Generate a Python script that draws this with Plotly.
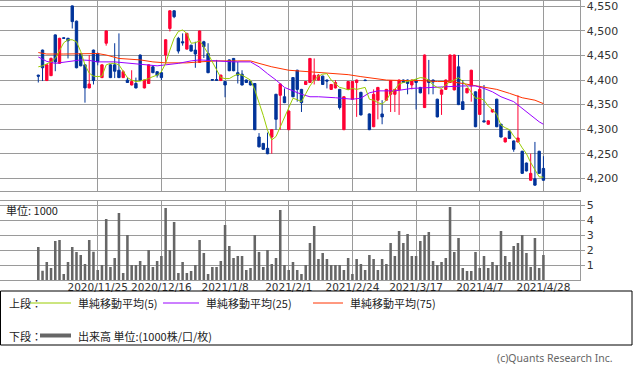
import plotly.graph_objects as go
import pandas as pd

# ---------------- data ----------------
holidays = ["2020-11-23", "2020-12-31", "2021-01-01", "2021-01-11", "2021-02-11", "2021-02-23"]
days = pd.bdate_range("2020-11-04", "2021-04-28", freq="C", holidays=holidays)
dates = [f"{d.year}/{d.month}/{d.day}" for d in days]

tick_labels = ["2020/11/25", "2020/12/16", "2021/1/8", "2021/2/1",
               "2021/2/24", "2021/3/17", "2021/4/7", "2021/4/28"]
price_ticks = [4200, 4250, 4300, 4350, 4400, 4450, 4500, 4550]
volume_ticks = [1, 2, 3, 4, 5]

open_ = [4410, 4461, 4399, 4409, 4492, 4434, 4486, 4485, 4551, 4520,
         4454, 4431, 4384, 4461, 4454, 4405, 4475, 4431, 4431, 4420,
         4405, 4400, 4390, 4393, 4451, 4384, 4393, 4427, 4417, 4415,
         4451, 4505, 4541, 4485, 4478, 4463, 4471, 4461, 4436, 4478,
         4454, 4401, 4401, 4399, 4397, 4441, 4444, 4415, 4412, 4400,
         4397, 4393, 4284, 4271, 4261, 4284, 4371, 4369, 4366, 4299,
         4405, 4420, 4381, 4391, 4395, 4400, 4400, 4408, 4400, 4381,
         4384, 4381, 4299, 4381, 4361, 4395, 4375, 4400, 4331, 4305,
         4359, 4331, 4359, 4371, 4371, 4380, 4400, 4400, 4390, 4400,
         4385, 4344, 4400, 4400, 4361, 4371, 4381, 4395, 4380, 4427,
         4356, 4374, 4388, 4376, 4330, 4317, 4310, 4335, 4361, 4310,
         4274, 4296, 4276, 4274, 4255, 4231, 4196, 4199, 4255, 4220]
high = [4411, 4462, 4432, 4446, 4493, 4486, 4487, 4486, 4552, 4521,
        4455, 4432, 4451, 4462, 4456, 4432, 4501, 4432, 4475, 4495,
        4420, 4405, 4420, 4405, 4452, 4401, 4432, 4430, 4418, 4416,
        4483, 4542, 4542, 4488, 4495, 4496, 4472, 4478, 4501, 4480,
        4475, 4402, 4441, 4411, 4398, 4442, 4445, 4437, 4420, 4401,
        4398, 4394, 4292, 4272, 4293, 4300, 4372, 4393, 4383, 4338,
        4406, 4421, 4382, 4398, 4445, 4444, 4412, 4409, 4401, 4392,
        4400, 4382, 4367, 4398, 4398, 4401, 4376, 4401, 4332, 4381,
        4386, 4359, 4382, 4400, 4382, 4401, 4401, 4401, 4401, 4401,
        4386, 4452, 4441, 4401, 4362, 4381, 4401, 4452, 4452, 4451,
        4400, 4384, 4421, 4377, 4388, 4390, 4318, 4341, 4362, 4311,
        4283, 4297, 4277, 4369, 4256, 4232, 4250, 4274, 4256, 4245]
low = [4395, 4398, 4398, 4408, 4418, 4433, 4484, 4444, 4505, 4424,
       4428, 4354, 4383, 4391, 4430, 4404, 4470, 4404, 4404, 4404,
       4404, 4394, 4389, 4383, 4398, 4383, 4392, 4414, 4405, 4400,
       4432, 4499, 4526, 4454, 4470, 4462, 4458, 4425, 4435, 4445,
       4414, 4399, 4399, 4398, 4365, 4418, 4418, 4393, 4389, 4394,
       4389, 4298, 4263, 4258, 4249, 4250, 4299, 4299, 4353, 4298,
       4365, 4356, 4335, 4390, 4394, 4391, 4399, 4390, 4383, 4380,
       4383, 4340, 4298, 4380, 4360, 4325, 4328, 4398, 4298, 4304,
       4320, 4310, 4358, 4335, 4335, 4329, 4394, 4371, 4381, 4340,
       4373, 4343, 4371, 4371, 4324, 4329, 4380, 4394, 4379, 4349,
       4339, 4373, 4356, 4304, 4329, 4314, 4309, 4334, 4304, 4283,
       4273, 4280, 4254, 4273, 4209, 4214, 4195, 4185, 4209, 4195]
close = [4408, 4425, 4431, 4444, 4437, 4485, 4485, 4480, 4519, 4425,
         4429, 4384, 4392, 4399, 4437, 4431, 4500, 4405, 4418, 4405,
         4417, 4395, 4397, 4384, 4399, 4400, 4431, 4415, 4410, 4405,
         4482, 4541, 4529, 4459, 4476, 4495, 4459, 4453, 4500, 4468,
         4415, 4400, 4399.5, 4410, 4390, 4419, 4419, 4410, 4390, 4395,
         4390, 4299, 4264, 4259, 4250, 4299, 4320, 4392, 4354, 4337,
         4366, 4381, 4354, 4397, 4444, 4410, 4410, 4391, 4398, 4391,
         4395, 4344, 4366, 4397, 4397, 4400, 4329, 4399, 4299, 4371,
         4385, 4325, 4381, 4399, 4381, 4400, 4395, 4393, 4400, 4395,
         4374, 4451, 4395, 4396, 4325, 4380, 4400, 4451, 4451, 4350,
         4340, 4383, 4420, 4305, 4381, 4315, 4317, 4340, 4305, 4284,
         4282, 4281, 4259, 4282, 4210, 4215, 4210, 4186, 4210, 4196]

volume = [2.22, 0.64, 1.22, 0.82, 2.62, 2.69, 0.42, 1.22, 2.22, 1.89,
          1.69, 1.09, 2.69, 1.91, 0.69, 1.02, 4.09, 0.89, 1.49, 4.49,
          0.49, 3.02, 1.02, 1.02, 1.29, 1.02, 2.02, 0.89, 1.29, 1.62,
          4.82, 2.02, 3.89, 0.49, 1.22, 0.49, 0.62, 1.02, 2.69, 1.82,
          0.42, 0.89, 0.89, 1.29, 3.69, 2.29, 1.49, 1.62, 1.62, 0.69,
          0.82, 3.02, 1.89, 0.89, 2.02, 1.09, 1.49, 4.69, 1.02, 0.69,
          1.22, 0.69, 0.42, 1.02, 2.49, 3.62, 1.42, 1.82, 1.42, 1.02,
          1.02, 1.02, 0.69, 1.49, 0.42, 1.42, 1.09, 0.69, 1.69, 1.42,
          0.69, 1.42, 1.09, 2.49, 1.62, 3.29, 2.49, 3.09, 1.62, 1.62,
          2.62, 3.02, 3.22, 1.29, 1.02, 1.22, 1.49, 4.89, 1.89, 2.82,
          0.82, 0.62, 0.62, 1.89, 0.82, 1.62, 0.82, 1.22, 1.02, 3.29,
          1.62, 1.22, 2.29, 2.49, 3.02, 1.82, 0.89, 2.82, 0.82, 1.69]

ma5 = [4427, 4429, 4433, 4437, 4444, 4461, 4476, 4482, 4482, 4478,
       4458, 4431, 4414, 4408, 4407, 4408, 4431, 4434, 4434, 4431,
       4417, 4405, 4400, 4397, 4398, 4400, 4403, 4407, 4410, 4417,
       4434, 4461, 4485, 4499, 4502, 4495, 4475, 4476, 4480, 4468,
       4454, 4437, 4420, 4405, 4403, 4403, 4408, 4412, 4410, 4405,
       4400, 4380, 4355, 4328, 4298, 4278, 4285, 4305, 4325, 4346,
       4363, 4360, 4356, 4372, 4388, 4400, 4408, 4412, 4413, 4400,
       4392, 4385, 4383, 4380, 4383, 4381, 4383, 4385, 4361, 4359,
       4354, 4351, 4359, 4373, 4381, 4392, 4395, 4397, 4400, 4402,
       4405, 4404, 4400, 4390, 4385, 4383, 4390, 4397, 4400, 4405,
       4397, 4388, 4375, 4363, 4363, 4359, 4347, 4340, 4330, 4308,
       4303, 4299, 4286, 4276, 4262, 4250, 4232, 4218, 4203, 4202]

ma25_idx = [0, 2, 4, 6, 8, 10, 12, 14, 18, 22, 25, 28, 30, 33, 36, 38, 42, 46,
            50, 52, 54, 56, 58, 60, 62, 64, 66, 70, 74, 76, 78, 80, 84, 88, 92,
            96, 100, 103, 105, 107, 109, 112, 114, 116, 118, 119]
ma25 = [4447, 4438, 4434, 4436, 4439, 4441, 4440, 4437, 4437, 4434, 4431, 4429,
        4431, 4434, 4439, 4441, 4439, 4437, 4437, 4427, 4413, 4400, 4385, 4378,
        4371, 4366, 4366, 4364, 4361, 4363, 4374, 4378, 4378, 4383, 4385, 4386,
        4388, 4388, 4383, 4376, 4366, 4356, 4342, 4329, 4315, 4310]

ma75_idx = [0, 2, 6, 10, 14, 16, 19, 24, 27, 30, 35, 38, 42, 47, 50, 52, 55, 59,
            62, 66, 70, 73, 76, 79, 82, 86, 90, 94, 97, 100, 103, 106, 108, 111,
            114, 117, 119]
ma75 = [4456, 4453, 4453, 4453, 4454, 4451, 4444, 4441, 4437, 4435, 4435, 4437,
        4439, 4439, 4439, 4434, 4427, 4420, 4418, 4416, 4414, 4411, 4407, 4403,
        4400, 4399, 4399, 4397, 4397, 4393, 4388, 4384, 4381, 4373, 4364, 4359,
        4352]

# ---------------- styling ----------------
W, H = 633, 372
RED, BLUE = "#ff0033", "#003399"
GRID = "#9a9a9a"
TXT = "#333333"
JP = "Noto Sans CJK JP, Noto Sans, sans-serif"
NUM = "DejaVu Sans, Verdana, sans-serif"


def px(x):
    return x / W


def py(y):
    return 1 - y / H


fig = go.Figure()

fig.add_trace(go.Candlestick(
    x=dates, open=open_, high=high, low=low, close=close,
    increasing=dict(line=dict(color=RED, width=1), fillcolor=RED),
    decreasing=dict(line=dict(color=BLUE, width=1), fillcolor=BLUE),
    whiskerwidth=0, xaxis="x", yaxis="y", showlegend=False, hoverinfo="skip"))

fig.add_trace(go.Scatter(x=[dates[i] for i in ma75_idx], y=ma75, mode="lines",
                         line=dict(color="#ff3300", width=1), xaxis="x", yaxis="y",
                         showlegend=False, hoverinfo="skip"))
fig.add_trace(go.Scatter(x=[dates[i] for i in ma25_idx], y=ma25, mode="lines",
                         line=dict(color="#9900ff", width=1), xaxis="x", yaxis="y",
                         showlegend=False, hoverinfo="skip"))
fig.add_trace(go.Scatter(x=dates, y=ma5, mode="lines",
                         line=dict(color="#99cc00", width=1), xaxis="x", yaxis="y",
                         showlegend=False, hoverinfo="skip"))

fig.add_trace(go.Bar(x=dates, y=volume, marker=dict(color="#666666", line=dict(width=0)),
                     width=0.6, xaxis="x2", yaxis="y2", showlegend=False, hoverinfo="skip"))

xr = [-9.02, 127.5]
common_x = dict(type="category", categoryorder="array", categoryarray=dates,
                range=xr, domain=[0, px(579.5)], tickvals=tick_labels,
                showgrid=True, gridcolor=GRID, gridwidth=1,
                showline=True, mirror=True, linecolor=GRID, linewidth=1,
                ticks="", fixedrange=True, automargin=False)
common_y = dict(side="right", showgrid=True, gridcolor=GRID, gridwidth=1,
                showline=True, mirror=True, linecolor=GRID, linewidth=1,
                ticks="outside", ticklen=4, tickcolor=GRID, zeroline=False,
                automargin=False, fixedrange=True,
                tickfont=dict(family=NUM, size=11, color=TXT))

fig.update_layout(
    width=W, height=H, margin=dict(l=0, r=0, t=0, b=0, autoexpand=False),
    paper_bgcolor="white", plot_bgcolor="white",
    boxgap=0.2, bargap=0.4, showlegend=False,
    xaxis=dict(**common_x, anchor="y", showticklabels=False,
               rangeslider=dict(visible=False)),
    xaxis2=dict(**common_x, anchor="y2", showticklabels=True, ticklabelstandoff=-3,
                tickfont=dict(family=NUM, size=10.5, color=TXT)),
    yaxis=dict(**common_y, anchor="x", domain=[py(190.7), py(0.5)],
               range=[4174.7, 4562], tickvals=price_ticks, tickformat=","),
    yaxis2=dict(**common_y, anchor="x2", domain=[py(280.3), py(201.3)],
                range=[0, 5.27], tickvals=volume_ticks),
)

# legend box
shapes = [
    dict(type="rect", xref="paper", yref="paper", x0=px(0.5), x1=px(632), y0=py(345), y1=py(291),
         line=dict(color="black", width=1)),
    dict(type="line", xref="paper", yref="paper", x0=px(30), x1=px(71), y0=py(303), y1=py(303),
         line=dict(color="#99cc00", width=1)),
    dict(type="line", xref="paper", yref="paper", x0=px(163), x1=px(199), y0=py(303), y1=py(303),
         line=dict(color="#9900ff", width=1)),
    dict(type="line", xref="paper", yref="paper", x0=px(313), x1=px(343), y0=py(303), y1=py(303),
         line=dict(color="#ff3300", width=1)),
    dict(type="line", xref="paper", yref="paper", x0=px(40), x1=px(71), y0=py(335.5), y1=py(335.5),
         line=dict(color="#666666", width=4)),
]
fig.update_layout(shapes=shapes)


def label(text, x, y, anchor="left", size=11, color="#222222", family=JP):
    fig.add_annotation(text=text, x=px(x), y=py(y), xref="paper", yref="paper",
                       xanchor=anchor, yanchor="middle", showarrow=False,
                       font=dict(family=family, size=size, color=color))


label("上段：", 7, 303)
label("単純移動平均(5)", 76, 303)
label("単純移動平均(25)", 204, 303)
label("単純移動平均(75)", 348, 303)
label("下段：", 7, 335.5)
label("出来高 単位:(1000株/口/枚)", 76, 335.5)
label("単位: 1000", 4, 209.5)
label("(c)Quants Research Inc.", 615, 358, anchor="right", size=10.5, color="#666666",
      family="Noto Sans, sans-serif")

fig.write_html("out.html", config={"displayModeBar": False, "staticPlot": True},
               post_script="document.body.style.margin='0';document.body.style.padding='0';")
